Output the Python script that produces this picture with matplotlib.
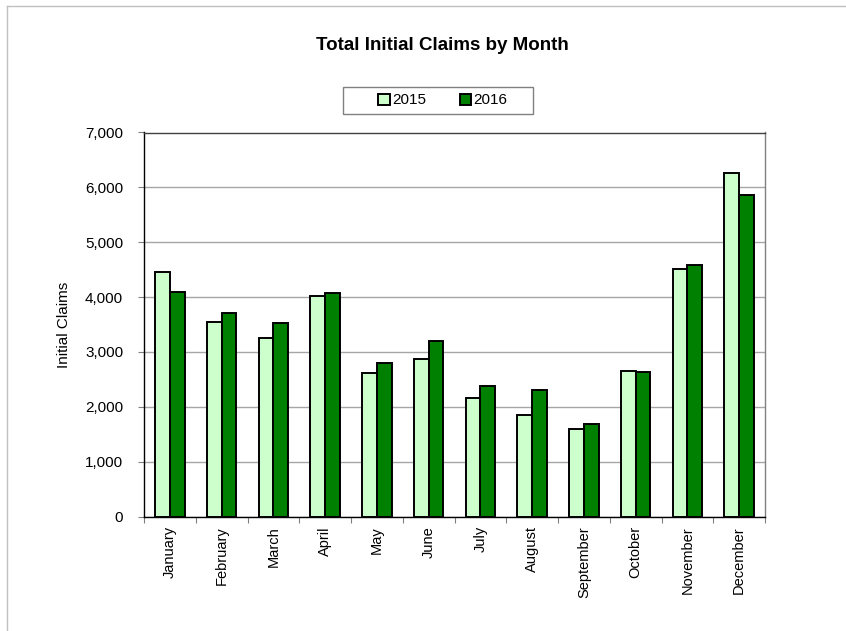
import matplotlib
matplotlib.use("Agg")
import matplotlib.pyplot as plt
import numpy as np
from matplotlib.lines import Line2D
from matplotlib.patches import Rectangle
from matplotlib import font_manager

months = ["January", "February", "March", "April", "May", "June", "July",
          "August", "September", "October", "November", "December"]
claims_2015 = [4463, 3540, 3245, 4020, 2625, 2880, 2169, 1859, 1586, 2661, 4518, 6259]
claims_2016 = [4099, 3718, 3536, 4069, 2807, 3208, 2388, 2297, 1695, 2643, 4580, 5863]
yticks = [0, 1000, 2000, 3000, 4000, 5000, 6000, 7000]

names = {f.name for f in font_manager.fontManager.ttflist}
fam = "Liberation Sans Narrow" if "Liberation Sans Narrow" in names else "Liberation Sans"
plt.rcParams['font.family'] = [fam, 'DejaVu Sans']

W, H = 846, 631
fig = plt.figure(figsize=(W/100, H/100), dpi=100)
ax = fig.add_axes([144/W, 1-516.5/H, 621/W, 384/H])

x = np.arange(len(months))
w = 0.285
ax.bar(x - w/2, claims_2015, w, color="#CCFFCC", edgecolor="black", linewidth=1.4, label="2015", zorder=3)
ax.bar(x + w/2, claims_2016, w, color="#008000", edgecolor="black", linewidth=1.4, label="2016", zorder=3)

ax.set_xlim(-0.5, len(months) - 0.5)
ax.set_ylim(0, 7000)
ax.set_yticks(yticks)
ax.set_yticklabels([f"{v:,}" for v in yticks], fontsize=11)
ax.set_xticks(x)
ax.set_xticklabels(months, rotation=90, fontsize=10.5)
ax.tick_params(axis='x', length=0, pad=7)
ax.set_xticks(np.arange(-0.5, len(months) + 0.5, 1), minor=True)
ax.tick_params(axis='x', which='minor', length=4, width=0.8, color='#808080', direction='out')
ax.tick_params(axis='y', length=4, width=0.8, color='#808080', direction='out', pad=11)
ax.grid(axis='y', color='#A6A6A6', linewidth=1.0, zorder=0)
ax.set_axisbelow(True)

for s in ['left', 'bottom']:
    ax.spines[s].set_color('black')
    ax.spines[s].set_linewidth(1.0)
ax.spines['top'].set_color('#404040')
ax.spines['right'].set_color('#808080')
ax.spines['top'].set_linewidth(1.0)
ax.spines['right'].set_linewidth(1.0)

ax.set_ylabel("Initial Claims", fontsize=11)
ax.yaxis.set_label_coords(-0.117, 0.5)

fig.text(442/W, 1-45/H, "Total Initial Claims by Month", ha='center', va='center',
         fontsize=13.5, fontweight='bold')

# legend box
fig.add_artist(Rectangle((343/W, 1-114/H), 190/W, 27/H, transform=fig.transFigure,
                         facecolor='white', edgecolor='#808080', linewidth=1.0))
leg = fig.legend(loc='center', bbox_to_anchor=(443/W, 1-100.5/H), ncol=2,
                 fontsize=11, frameon=False,
                 handlelength=0.75, handleheight=0.75, handletextpad=0.15, columnspacing=2.2,
                 borderpad=0, borderaxespad=0)

# outer chart frame
fig.add_artist(Line2D([7/W, 7/W], [0, 1-6/H], color='#C0C0C0', linewidth=1.0))
fig.add_artist(Line2D([7/W, 1], [1-6/H, 1-6/H], color='#C0C0C0', linewidth=1.0))

fig.savefig("out.png", dpi=100)
